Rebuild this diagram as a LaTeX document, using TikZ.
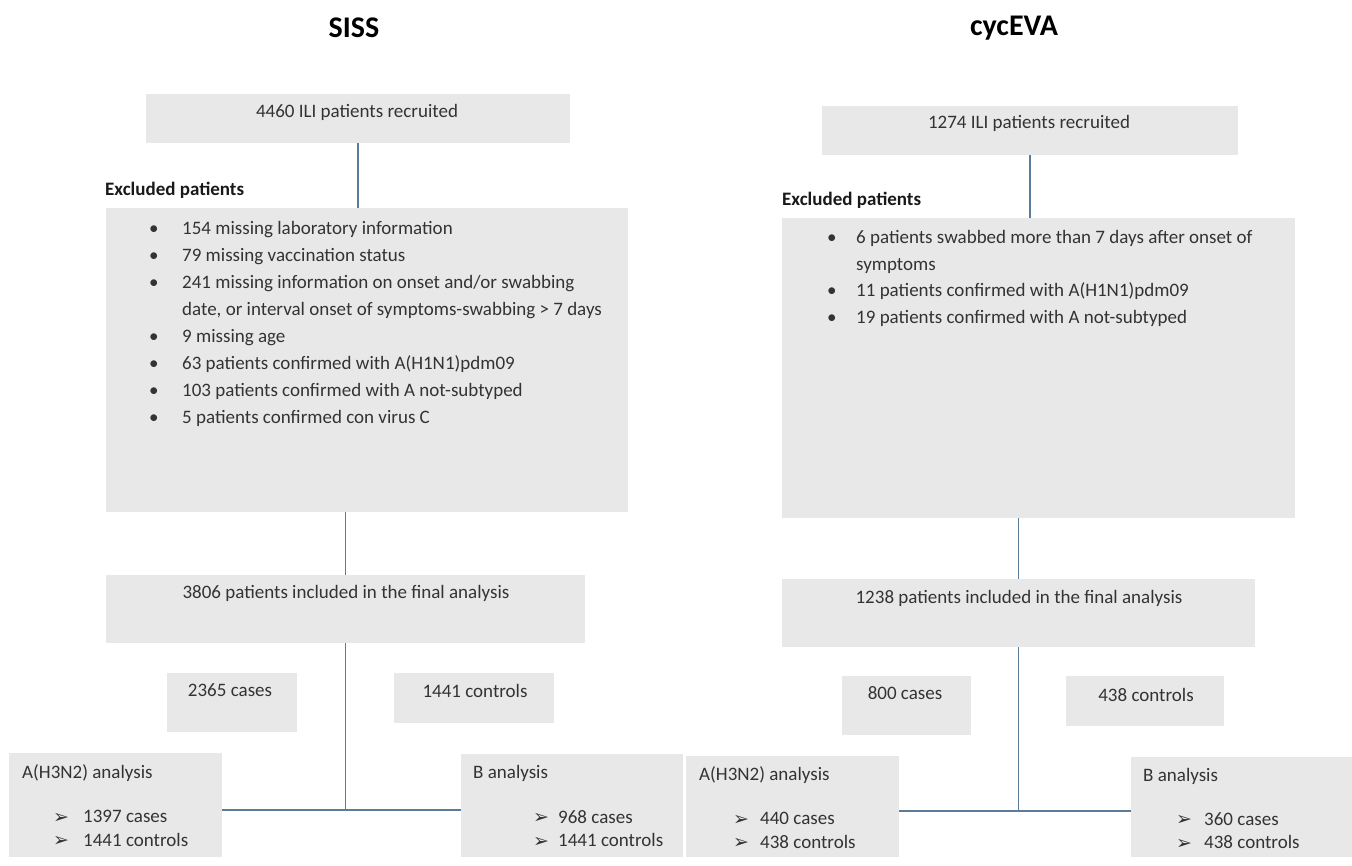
\documentclass[tikz,border=0pt]{standalone}
\usepackage{fontspec}
\setmainfont{Carlito}
\newfontfamily\dingfont{DejaVu Sans}
\usepackage{tikz}
\usetikzlibrary{positioning}

\definecolor{boxgray}{RGB}{232,232,232}
\definecolor{linkblue}{RGB}{90,124,154}
\newcommand{\bul}[1]{\makebox[#1][l]{\textbullet}}
\newcommand{\arr}[1]{\makebox[#1][l]{\raisebox{-0.5pt}[0pt][0pt]{\dingfont\fontsize{19}{19}\selectfont ➢}}}

\tikzset{
  box/.style={fill=boxgray, inner sep=0},
  txt/.style={font=\fontsize{19}{27}\selectfont, text=black!80, inner sep=0},
  itm/.style={font=\fontsize{19}{23.5}\selectfont, text=black!80, inner sep=0, align=left, anchor=north west},
  ttl/.style={font=\fontsize{30}{32}\selectfont\bfseries, inner sep=0},
  hdr/.style={font=\fontsize{19}{21}\selectfont\bfseries, text=black!90, inner sep=0, anchor=mid west},
  link/.style={draw=linkblue, line width=1.2pt}
}

\begin{document}
\begin{tikzpicture}[x=1pt,y=-1pt]
\useasboundingbox (0,0) rectangle (1352,866);

% SISS
\node[ttl] (siss-title) at (354,28) {SISS};
\node[box, minimum width=424pt, minimum height=49pt] (siss-rec) at (358,118.5) {};
\node[txt, anchor=mid] (siss-rec-t) at (357,115) {4460 ILI patients recruited};
\node[hdr] (siss-exh) at (105,193) {Excluded patients};
\node[box, minimum width=522pt, minimum height=304pt] (siss-excl) at (367,360) {};
\node[txt, align=left, anchor=north west] (siss-list) at (149,221) {\bul{33pt}154 missing laboratory information\\
\bul{33pt}79 missing vaccination status\\
\bul{33pt}241 missing information on onset and/or swabbing\\
\hspace*{33pt}date, or interval onset of symptoms-swabbing > 7 days\\
\bul{33pt}9 missing age\\
\bul{33pt}63 patients confirmed with A(H1N1)pdm09\\
\bul{33pt}103 patients confirmed with A not-subtyped\\
\bul{33pt}5 patients confirmed con virus C};
\node[box, minimum width=479pt, minimum height=68pt] (siss-fin) at (345.5,609) {};
\node[txt, anchor=mid] (siss-fin-t) at (346,596) {3806 patients included in the final analysis};
\node[box, minimum width=130pt, minimum height=59pt] (siss-cas) at (232,702.5) {};
\node[txt, anchor=mid] (siss-cas-t) at (230,694) {2365 cases};
\node[box, minimum width=160pt, minimum height=50pt] (siss-con) at (474,698) {};
\node[txt, anchor=mid] (siss-con-t) at (475,695) {1441 controls};
\node[box, minimum width=213pt, minimum height=104pt] (siss-a) at (115.5,805) {};
\node[txt, anchor=mid west] (siss-a-t) at (22,776) {A(H3N2) analysis};
\node[itm] (siss-a-list) at (53,810) {\arr{30pt}1397 cases\\\arr{30pt}1441 controls};
\node[box, minimum width=222pt, minimum height=103pt] (siss-b) at (572,805.5) {};
\node[txt, anchor=mid west] (siss-b-t) at (473,776) {B analysis};
\node[itm] (siss-b-list) at (533,810) {\arr{25pt}968 cases\\\arr{25pt}1441 controls};
\coordinate (siss-hub) at (345.5,810);

\draw[link] (siss-rec.south) -- (siss-rec.south |- siss-excl.north);
\draw[link] (siss-fin.north) -- (siss-fin.north |- siss-excl.south);
\draw[link] (siss-fin.south) -- (siss-hub);
\draw[link] (siss-a.east |- siss-hub) -- (siss-b.west |- siss-hub);

% cycEVA
\node[ttl] (cyc-title) at (1014,28) {cycEVA};
\node[box, minimum width=416pt, minimum height=49pt] (cyc-rec) at (1030,130.5) {};
\node[txt, anchor=mid] (cyc-rec-t) at (1029,126) {1274 ILI patients recruited};
\node[hdr] (cyc-exh) at (782,203) {Excluded patients};
\node[box, minimum width=513pt, minimum height=300pt] (cyc-excl) at (1038.5,368) {};
\node[txt, font=\fontsize{19}{26.7}\selectfont, align=left, anchor=north west] (cyc-list) at (827,230) {\bul{29pt}6 patients swabbed more than 7 days after onset of\\
\hspace*{29pt}symptoms\\
\bul{29pt}11 patients confirmed with A(H1N1)pdm09\\
\bul{29pt}19 patients confirmed with A not-subtyped};
\node[box, minimum width=473pt, minimum height=68pt] (cyc-fin) at (1018.5,613) {};
\node[txt, anchor=mid] (cyc-fin-t) at (1019,601) {1238 patients included in the final analysis};
\node[box, minimum width=129pt, minimum height=59pt] (cyc-cas) at (906.5,705.5) {};
\node[txt, anchor=mid] (cyc-cas-t) at (905,697) {800 cases};
\node[box, minimum width=158pt, minimum height=50pt] (cyc-con) at (1145,701) {};
\node[txt, anchor=mid] (cyc-con-t) at (1146,699) {438 controls};
\node[box, minimum width=213pt, minimum height=101pt] (cyc-a) at (792.5,806.5) {};
\node[txt, anchor=mid west] (cyc-a-t) at (699,778) {A(H3N2) analysis};
\node[itm] (cyc-a-list) at (733,812) {\arr{27pt}440 cases\\\arr{27pt}438 controls};
\node[box, minimum width=221pt, minimum height=100pt] (cyc-b) at (1241.5,807) {};
\node[txt, anchor=mid west] (cyc-b-t) at (1143,779) {B analysis};
\node[itm] (cyc-b-list) at (1176,812) {\arr{28pt}360 cases\\\arr{28pt}438 controls};
\coordinate (cyc-hub) at (1018.5,811);

\draw[link] (cyc-rec.south) -- (cyc-rec.south |- cyc-excl.north);
\draw[link] (cyc-fin.north) -- (cyc-fin.north |- cyc-excl.south);
\draw[link] (cyc-fin.south) -- (cyc-hub);
\draw[link] (cyc-a.east |- cyc-hub) -- (cyc-b.west |- cyc-hub);
\end{tikzpicture}
\end{document}
